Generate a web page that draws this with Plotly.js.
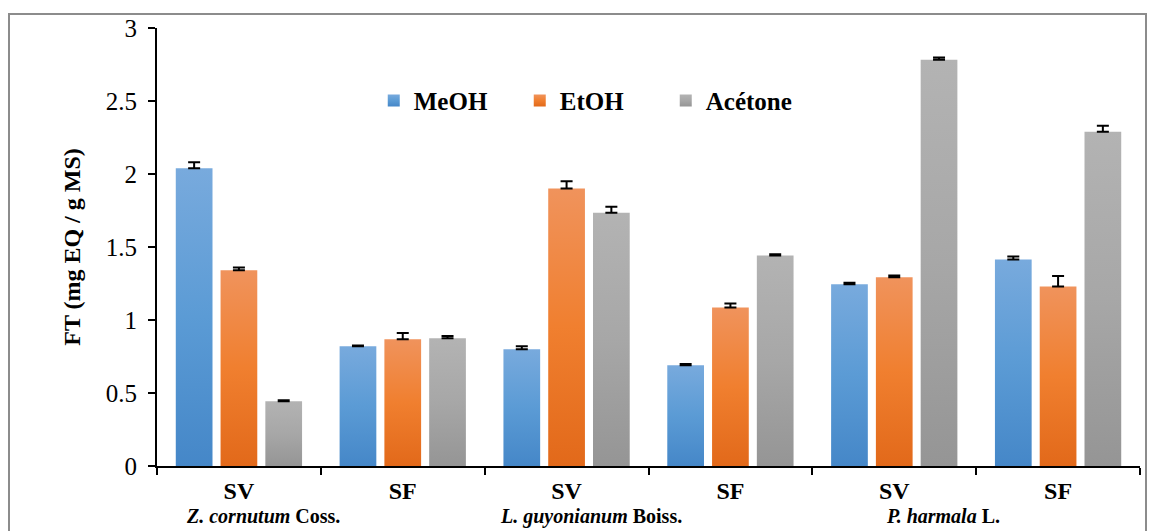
<!DOCTYPE html>
<html>
<head>
<meta charset="utf-8">
<script src="https://cdn.plot.ly/plotly-3.0.1.min.js"></script>
<style>
html,body{margin:0;padding:0;background:#fff;overflow:hidden;}
#frame{position:absolute;left:8px;top:13px;width:1139px;height:560px;border:2px solid #8c8c8c;box-sizing:border-box;pointer-events:none;}
#chart{position:absolute;left:0;top:0;width:1153px;height:531px;}
</style>
</head>
<body>
<div id="chart"></div>
<div id="frame"></div>
<script>
// ---- data ----
const groups = ['SV1', 'SF1', 'SV2', 'SF2', 'SV3', 'SF3'];
const groupLabels = ['<b>SV</b>', '<b>SF</b>', '<b>SV</b>', '<b>SF</b>', '<b>SV</b>', '<b>SF</b>'];
const species = ['<b><i>Z. cornutum</i> Coss.</b>', '<b><i>L. guyonianum</i> Boiss.</b>', '<b><i>P. harmala</i> L.</b>'];
const speciesPos = [0.15, 2.15, 4.3];

const meoh = [2.04, 0.82, 0.80, 0.69, 1.245, 1.415];
const meohErr = [0.04, 0.005, 0.02, 0.008, 0.01, 0.02];
const etoh = [1.34, 0.868, 1.90, 1.085, 1.292, 1.23];
const etohErr = [0.02, 0.043, 0.05, 0.028, 0.012, 0.072];
const acetone = [0.444, 0.875, 1.735, 1.442, 2.782, 2.29];
const acetoneErr = [0.006, 0.015, 0.04, 0.008, 0.016, 0.04];

const seriesNames = ['MeOH', 'EtOH', 'Acétone'];
const seriesColors = ['#5b9bd5', '#f07f2f', '#a7a7a7'];
// vertical shading (top, bottom) for each series
const shadeTop = ['#78aadd', '#f0935c', '#b3b3b3'];
const shadeBottom = ['#4587c8', '#e2691a', '#959595'];

function mk(name, y, err, color) {
  return {
    type: 'bar', name: '<b>' + name + '</b>', x: groups, y: y,
    marker: {color: color, line: {width: 0}},
    error_y: {type: 'data', array: err, arrayminus: err.map(() => 0), symmetric: false,
              color: '#000', thickness: 2, width: 6},
    hoverinfo: 'y'
  };
}
const data = [
  mk(seriesNames[0], meoh, meohErr, seriesColors[0]),
  mk(seriesNames[1], etoh, etohErr, seriesColors[1]),
  mk(seriesNames[2], acetone, acetoneErr, seriesColors[2])
];

const serif = '"Liberation Serif", "Times New Roman", serif';
const layout = {
  width: 1153, height: 531,
  margin: {l: 157, r: 13, t: 28, b: 65},
  paper_bgcolor: '#fff', plot_bgcolor: '#fff',
  barmode: 'group', bargap: 0.18, bargroupgap: 0.18,
  font: {family: serif, color: '#000'},
  showlegend: true,
  legend: {orientation: 'h', x: 0.2205, y: 0.834, xanchor: 'left', yanchor: 'middle',
           font: {family: serif, size: 25, color: '#000'}, entrywidth: 101,
           bgcolor: 'rgba(0,0,0,0)', traceorder: 'normal'},
  xaxis: {
    type: 'category', tickmode: 'array', tickvals: groups, ticktext: groupLabels,
    tickson: 'boundaries', ticks: 'outside', ticklen: 7, tickwidth: 2, tickcolor: '#000',
    showline: true, linecolor: '#000', linewidth: 2, showgrid: false, zeroline: false,
    tickfont: {family: serif, size: 24, color: '#000'}, ticklabelstandoff: 2
  },
  yaxis: {
    range: [0, 3], dtick: 0.5, tick0: 0, ticks: 'outside', ticklen: 7, tickwidth: 2, tickcolor: '#000',
    showline: true, linecolor: '#000', linewidth: 2, showgrid: false, zeroline: false,
    tickfont: {family: serif, size: 25, color: '#000'}, ticklabelstandoff: 6,
    title: {text: '<b>FT (mg EQ / g MS)</b>', font: {family: serif, size: 24, color: '#000'}, standoff: 18}
  },
  annotations: species.map((s, i) => ({
    text: s, x: speciesPos[i], xref: 'x', y: -0.087, yref: 'paper',
    xanchor: 'center', yanchor: 'top', showarrow: false, borderpad: 0,
    font: {family: serif, size: 20, color: '#000'}
  }))
};

Plotly.newPlot('chart', data, layout, {displayModeBar: false, staticPlot: true}).then(gd => {
  // add vertical colour shading to the bars and legend swatches
  const svg = gd.querySelector('svg.main-svg');
  const ns = 'http://www.w3.org/2000/svg';
  let defs = svg.querySelector('defs');
  if (!defs) { defs = document.createElementNS(ns, 'defs'); svg.insertBefore(defs, svg.firstChild); }
  seriesNames.forEach((n, i) => {
    const lg = document.createElementNS(ns, 'linearGradient');
    lg.setAttribute('id', 'shade' + i);
    lg.setAttribute('x1', '0'); lg.setAttribute('y1', '0');
    lg.setAttribute('x2', '0'); lg.setAttribute('y2', '1');
    [[0, shadeTop[i]], [0.5, seriesColors[i]], [1, shadeBottom[i]]].forEach(([o, c]) => {
      const st = document.createElementNS(ns, 'stop');
      st.setAttribute('offset', o); st.setAttribute('stop-color', c);
      lg.appendChild(st);
    });
    defs.appendChild(lg);
  });
  gd.querySelectorAll('.barlayer .trace.bars').forEach((t, i) => {
    t.querySelectorAll('path').forEach(p => { p.style.fill = 'url(#shade' + i + ')'; });
  });
  gd.querySelectorAll('.legend .traces').forEach((t, i) => {
    t.querySelectorAll('.legendpoints path').forEach(p => { p.style.fill = 'url(#shade' + i + ')'; });
  });
});
</script>
</body>
</html>
